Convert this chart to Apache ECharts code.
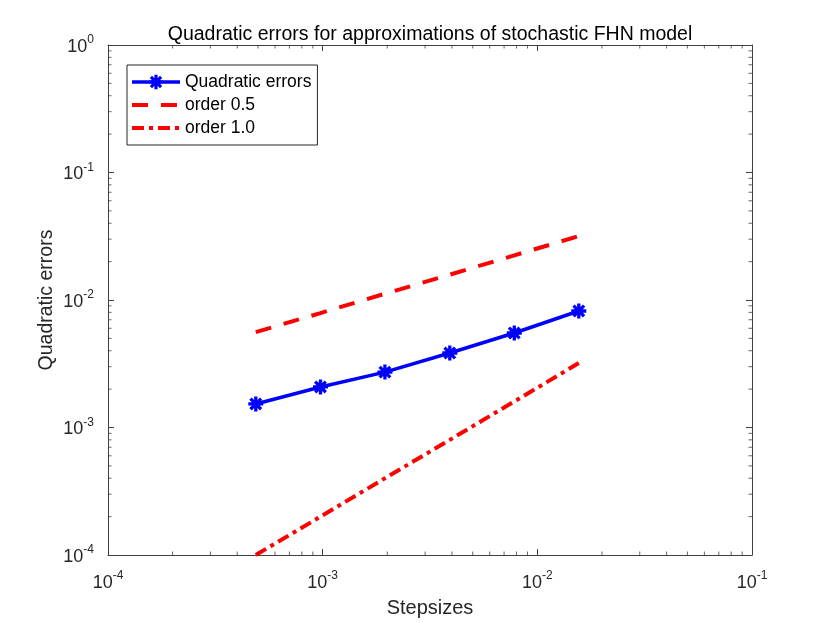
<!DOCTYPE html>
<html lang="en" style="height: 100%">
<head>
  <meta charset="utf-8">
</head>
<body style="height: 100%; margin: 0; background: #fff">
  <div id="container" style="height: 100%"></div>

  <script type="text/javascript" src="https://fastly.jsdelivr.net/npm/echarts@6/dist/echarts.min.js"></script>

  <script type="text/javascript">
    // data
    var stepsizes = [4.88e-4, 9.77e-4, 1.95e-3, 3.91e-3, 7.81e-3, 1.56e-2];
    var quadErrors = [1.53e-3, 2.08e-3, 2.72e-3, 3.84e-3, 5.51e-3, 8.2e-3];
    var order05 = [5.6e-3, 7.9e-3, 1.12e-2, 1.58e-2, 2.24e-2, 3.17e-2];
    var order10 = [1.0e-4, 2.0e-4, 4.0e-4, 8.0e-4, 1.6e-3, 3.2e-3];

    // minor tick positions (2..9 per decade)
    var xMinorTicks = [];
    var yMinorTicks = [];
    [1e-4, 1e-3, 1e-2].forEach(function (d) {
      for (var k = 2; k <= 9; k++) xMinorTicks.push(+(k * d).toPrecision(3));
    });
    [1e-4, 1e-3, 1e-2, 1e-1].forEach(function (d) {
      for (var k = 2; k <= 9; k++) yMinorTicks.push(+(k * d).toPrecision(3));
    });

    var dom = document.getElementById('container');
    var myChart = echarts.init(dom, null, { renderer: 'canvas' });

    var FONT = '"Liberation Sans", Arial, Helvetica, sans-serif';
    var AXIS_COLOR = '#404040';

    function pair(xs, ys) {
      return xs.map(function (x, i) { return [x, ys[i]]; });
    }

    // asterisk marker (8 spokes)
    var asterisk = 'path://M7.8 0L12.2 0L12.2 20L7.8 20Z' +
      'M0 7.8L20 7.8L20 12.2L0 12.2Z' +
      'M4.49 1.38L18.62 15.51L15.51 18.62L1.38 4.49Z' +
      'M18.62 4.49L4.49 18.62L1.38 15.51L15.51 1.38Z';

    function powLabel(v) {
      var e = Math.round(Math.log10(v));
      return '{b|10}{s|' + e + '}';
    }
    var richLabel = {
      b: { fontSize: 18, fontFamily: FONT, color: '#262626', verticalAlign: 'bottom', lineHeight: 22 },
      s: { fontSize: 12, fontFamily: FONT, color: '#262626', verticalAlign: 'top', lineHeight: 22 }
    };

    function minorSeries(data, size, offset) {
      return {
        type: 'scatter',
        data: data,
        symbol: 'rect',
        symbolSize: size,
        symbolOffset: offset,
        itemStyle: { color: AXIS_COLOR },
        silent: true,
        clip: false,
        animation: false,
        z: 10
      };
    }

    var baseAxis = {
      type: 'log',
      logBase: 10,
      interval: 1,
      nameMoveOverlap: false,
      axisLine: { show: true, lineStyle: { color: AXIS_COLOR, width: 1 } },
      axisTick: { show: true, inside: true, length: 6, lineStyle: { color: AXIS_COLOR } },
      splitLine: { show: false }
    };

    var option = {
      backgroundColor: '#fff',
      animation: false,
      title: {
        text: 'Quadratic errors for approximations of stochastic FHN model',
        left: 425,
        textAlign: 'center',
        top: 20,
        textStyle: { fontFamily: FONT, fontSize: 19.5, fontWeight: 'normal', color: '#000' }
      },
      legend: {
        data: [
          { name: 'Quadratic errors', lineStyle: { width: 3.5 } },
          { name: 'order 0.5', lineStyle: { width: 4 }, itemStyle: { opacity: 0 } },
          { name: 'order 1.0', lineStyle: { width: 4 }, itemStyle: { opacity: 0 } }
        ],
        orient: 'vertical',
        left: 127,
        top: 65,
        itemWidth: 48,
        itemHeight: 18,
        itemGap: 5,
        padding: [8, 6, 8, 3],
        borderColor: '#262626',
        borderWidth: 1,
        backgroundColor: '#fff',
        textStyle: { fontFamily: FONT, fontSize: 17.5, color: '#000' }
      },
      grid: { left: 108, right: 78, top: 45, bottom: 68, outerBoundsMode: 'none' },
      xAxis: [
        Object.assign({}, baseAxis, {
          min: 1e-4,
          max: 1e-1,
          position: 'bottom',
          name: 'Stepsizes',
          nameLocation: 'middle',
          nameGap: 43,
          nameTextStyle: { fontFamily: FONT, fontSize: 20, color: '#262626' },
          axisLabel: { formatter: powLabel, rich: richLabel, margin: 15 }
        }),
        Object.assign({}, baseAxis, {
          min: 1e-4,
          max: 1e-1,
          position: 'top',
          axisLabel: { show: false }
        })
      ],
      yAxis: [
        Object.assign({}, baseAxis, {
          min: 1e-4,
          max: 1,
          position: 'left',
          name: 'Quadratic errors',
          nameLocation: 'middle',
          nameGap: 51,
          nameTextStyle: { fontFamily: FONT, fontSize: 19.5, color: '#262626' },
          axisLabel: { formatter: powLabel, rich: richLabel, margin: 14 }
        }),
        Object.assign({}, baseAxis, {
          min: 1e-4,
          max: 1,
          position: 'right',
          axisLabel: { show: false }
        })
      ],
      series: [
        {
          name: 'Quadratic errors',
          type: 'line',
          data: pair(stepsizes, quadErrors),
          symbol: asterisk,
          symbolSize: 15,
          showAllSymbol: true,
          lineStyle: { color: '#0000ff', width: 3.5 },
          itemStyle: { color: '#0000ff' },
          z: 5
        },
        {
          name: 'order 0.5',
          type: 'line',
          data: pair(stepsizes, order05),
          showSymbol: false,
          lineStyle: { color: '#ff0000', width: 4, type: [16, 13] },
          itemStyle: { color: '#ff0000' }
        },
        {
          name: 'order 1.0',
          type: 'line',
          data: pair(stepsizes, order10),
          showSymbol: false,
          lineStyle: { color: '#ff0000', width: 4, type: [12, 5, 4, 5] },
          itemStyle: { color: '#ff0000' }
        },
        minorSeries(xMinorTicks.map(function (v) { return [v, 1e-4]; }), [1, 3.5], [0, -1.75]),
        minorSeries(xMinorTicks.map(function (v) { return [v, 1]; }), [1, 3.5], [0, 1.75]),
        minorSeries(yMinorTicks.map(function (v) { return [1e-4, v]; }), [3.5, 1], [1.75, 0]),
        minorSeries(yMinorTicks.map(function (v) { return [1e-1, v]; }), [3.5, 1], [-1.75, 0])
      ]
    };

    myChart.setOption(option);
    window.addEventListener('resize', myChart.resize);
  </script>
</body>
</html>
